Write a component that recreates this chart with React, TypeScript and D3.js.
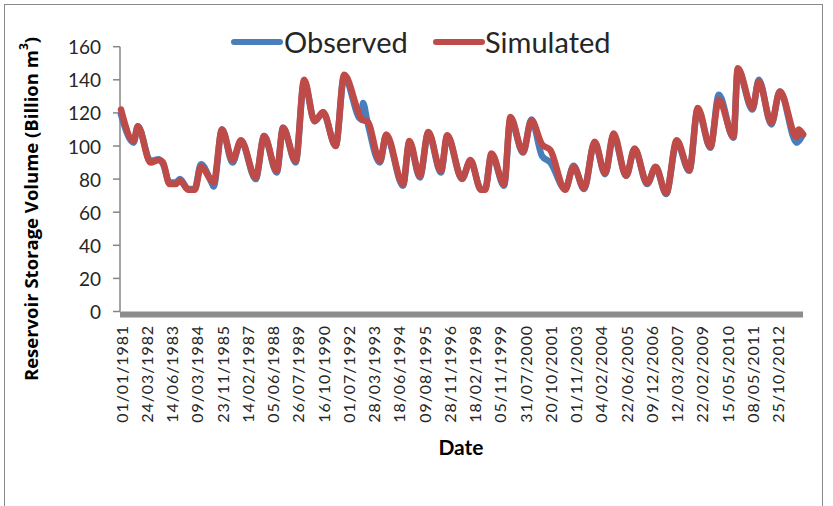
import React from "react";
import * as d3 from "d3";

// Category labels shown on the x axis (every 12th category)
const dateLabels = [
  "01/01/1981", "24/03/1982", "14/06/1983", "09/03/1984", "23/11/1985",
  "14/02/1987", "05/06/1988", "26/07/1989", "16/10/1990", "01/07/1992",
  "28/03/1993", "18/06/1994", "09/08/1995", "28/11/1996", "18/02/1998",
  "05/11/1999", "31/07/2000", "20/10/2001", "01/11/2003", "04/02/2004",
  "22/06/2005", "09/12/2006", "12/03/2007", "22/02/2009", "15/05/2010",
  "08/05/2011", "25/10/2012",
];
const labelStep = 12;
const lastCategory = 324;

// Category index of each sampled point (turning points of the series)
const categoryIndex = [
  0, 6, 8, 14, 18, 20, 23, 26, 28, 32, 35, 38, 43, 44, 48, 53, 57, 64, 68, 74,
  77, 83, 87, 92, 96, 102, 106, 114, 115, 117, 123, 126, 134, 137, 142, 146, 152, 155, 162, 166,
  171, 173, 176, 182, 185, 191, 195, 200, 204, 211, 215, 220, 225, 230, 234, 240, 244, 250, 254, 259,
  264, 270, 274, 280, 284, 291, 293, 300, 303, 309, 313, 321, 322, 324,
];
const observed = [
  119, 102, 112, 91, 92, 89, 78, 78, 80, 74, 74, 89, 78, 75.5, 110, 90, 103, 80, 106, 84,
  111, 90, 139, 115, 120, 100, 142, 116, 126, 115, 90, 106, 76, 102, 81, 108, 84, 106, 80, 91,
  74, 74, 95, 76, 116, 96, 116, 94, 90, 74, 88, 74, 102, 83, 106, 82, 98, 77, 87, 71,
  102, 85, 122, 99, 131, 105, 146, 122, 140, 113, 133, 102, 103, 107,
];
const simulated = [
  122, 103, 112, 90, 91.5, 90, 77, 77, 79, 73.5, 73.5, 87.5, 79, 78, 110, 91.5, 103.5, 81, 106, 85,
  111, 91, 140, 115, 120.5, 100, 143, 117, 115.5, 115, 91, 107, 77, 103, 82, 108.5, 85, 106.5, 80.5, 91.5,
  73.5, 73.5, 95.5, 77, 117.5, 96.5, 115.5, 101, 97.5, 73.5, 87.5, 74.5, 102.5, 83.5, 107.5, 82, 98.5, 77.5, 87.5, 71.5,
  103.5, 85.5, 123, 99.5, 128, 105.5, 147, 123, 139, 114, 133, 105.5, 110, 107,
];
const yTicks = [0, 20, 40, 60, 80, 100, 120, 140, 160];

const W = 833;
const H = 506;
const BLUE = "#4a7ebb";
const RED = "#be4b48";
const FONT = "Lato, 'Open Sans', sans-serif";

export default function App() {
  const x = d3.scaleLinear().domain([0, lastCategory]).range([121, 803]);
  const y = d3.scaleLinear().domain([0, 160]).range([311.5, 46.7]);

  const obsPts = categoryIndex.map((c, i) => [c, observed[i]] as [number, number]);
  const simPts = categoryIndex.map((c, i) => [c, simulated[i]] as [number, number]);
  const line = d3
    .line<[number, number]>()
    .x((d) => x(d[0]))
    .y((d) => y(d[1]))
    .curve(d3.curveMonotoneX);

  return (
    <svg
      width={W}
      height={H}
      style={{ position: "absolute", left: 0, top: 0, background: "#fff" }}
      fontFamily={FONT}
    >
      <rect x={0} y={0} width={W} height={H} fill="#fff" />
      <rect x={4.5} y={4.5} width={818} height={510} fill="none" stroke="#8a8a8a" strokeWidth={1} />

      {/* y axis */}
      <line x1={120} x2={120} y1={y(160)} y2={y(0)} stroke="#868686" strokeWidth={1.5} />
      {yTicks.map((t) => (
        <g key={t}>
          <line x1={113} x2={120} y1={y(t)} y2={y(t)} stroke="#868686" strokeWidth={1.5} />
          <text
            x={101}
            y={y(t)}
            textAnchor="end"
            dominantBaseline="central"
            fontSize={19}
            fill="#262626"
          >
            {t}
          </text>
        </g>
      ))}

      {/* x axis band */}
      <rect x={120} y={y(0)} width={803 - 120} height={6} fill="#8c8c8c" />
      {dateLabels.map((lab, k) => {
        const px = x(k * labelStep);
        return (
          <text
            key={lab}
            transform={`translate(${px},${325}) rotate(-90)`}
            textAnchor="end"
            dominantBaseline="central"
            fontSize={16}
            letterSpacing={0.9}
            fill="#262626"
          >
            {lab}
          </text>
        );
      })}

      {/* series */}
      <path d={line(obsPts) || ""} fill="none" stroke={BLUE} strokeWidth={6.5} strokeLinejoin="round" strokeLinecap="round" />
      <path d={line(simPts) || ""} fill="none" stroke={RED} strokeWidth={6.5} strokeLinejoin="round" strokeLinecap="round" />

      {/* legend */}
      <line x1={234} x2={280} y1={42} y2={42} stroke={BLUE} strokeWidth={6} strokeLinecap="round" />
      <text x={284} y={53} fontSize={29} fill="#262626">Observed</text>
      <line x1={436} x2={482} y1={42} y2={42} stroke={RED} strokeWidth={6} strokeLinecap="round" />
      <text x={485} y={53} fontSize={29} fill="#262626">Simulated</text>

      {/* axis titles */}
      <text
        transform={`translate(30,209) rotate(-90)`}
        textAnchor="middle"
        dominantBaseline="central"
        fontSize={18.5}
        fontWeight="bold"
        fontFamily="'Open Sans', sans-serif"
        fill="#000"
      >
        Reservoir Storage Volume (Billion m
        <tspan fontSize={12} dy={-7}>3</tspan>
        <tspan dy={7}>)</tspan>
      </text>
      <text x={461} y={455} textAnchor="middle" fontSize={21} fontWeight="bold" fill="#000">
        Date
      </text>
    </svg>
  );
}
